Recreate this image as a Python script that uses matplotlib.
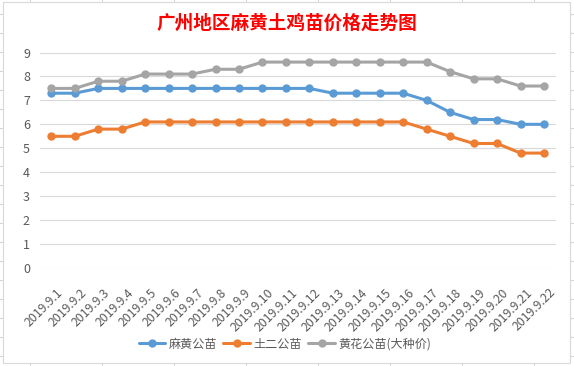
import matplotlib
matplotlib.use('Agg')
import matplotlib.pyplot as plt
import matplotlib.transforms as mtransforms
from matplotlib.patches import Rectangle
from matplotlib.lines import Line2D

plt.rcParams['font.family'] = ['Noto Sans CJK SC', 'DejaVu Sans']

# ---- data ----
dates = ['2019.9.%d' % d for d in range(1, 23)]
mahuang = [7.3, 7.3, 7.5, 7.5, 7.5, 7.5, 7.5, 7.5, 7.5, 7.5, 7.5, 7.5,
           7.3, 7.3, 7.3, 7.3, 7.0, 6.5, 6.2, 6.2, 6.0, 6.0]
tuer = [5.5, 5.5, 5.8, 5.8, 6.1, 6.1, 6.1, 6.1, 6.1, 6.1, 6.1, 6.1,
        6.1, 6.1, 6.1, 6.1, 5.8, 5.5, 5.2, 5.2, 4.8, 4.8]
huanghua = [7.5, 7.5, 7.8, 7.8, 8.1, 8.1, 8.1, 8.3, 8.3, 8.6, 8.6, 8.6,
            8.6, 8.6, 8.6, 8.6, 8.6, 8.2, 7.9, 7.9, 7.6, 7.6]
series_names = ['麻黄公苗', '土二公苗', '黄花公苗(大种价)']
colors = ['#5B9BD5', '#ED7D31', '#A5A5A5']

W, H = 574, 366
fig = plt.figure(figsize=(W / 100, H / 100), dpi=100)
fig.patch.set_facecolor('white')

def px(x, y):
    return x / W, 1 - y / H

# spreadsheet cells behind the chart
for y in range(14, H, 19):
    fig.add_artist(Line2D([0, 1], [1 - y / H] * 2, color='#D6D6D6', lw=0.8,
                          transform=fig.transFigure, zorder=-3))
for x in range(30, W, 72):
    fig.add_artist(Line2D([x / W] * 2, [0, 1], color='#D6D6D6', lw=0.8,
                          transform=fig.transFigure, zorder=-3))

# chart box
x0, y0 = px(3, 363)
x1, y1 = px(570, 2)
fig.add_artist(Rectangle((x0, y0), x1 - x0, y1 - y0, transform=fig.transFigure,
                         facecolor='white', edgecolor='#D9D9D9', lw=0.8, zorder=-2))

ax = fig.add_axes([39.6 / W, 1 - 268 / H, (555.7 - 39.6) / W, (268 - 52.5) / H])
ax.set_facecolor('none')

xs = range(len(dates))
for vals, name, c in zip([mahuang, tuer, huanghua], series_names, colors):
    ax.plot(xs, vals, color=c, lw=2.2, marker='o', markersize=5, label=name,
            solid_capstyle='round', zorder=3)

ax.set_xlim(-0.5, len(dates) - 0.5)
ax.set_ylim(0, 9)
ax.set_yticks(range(0, 10))
ax.yaxis.grid(True, color='#D9D9D9', lw=0.8)
ax.set_axisbelow(True)
for s in ax.spines.values():
    s.set_visible(False)
ax.tick_params(length=0, colors='#595959', labelsize=9)
ax.tick_params(axis='y', pad=7)
ax.set_xticks(list(xs))
ax.set_xticklabels(dates, rotation=45, ha='right', va='top',
                   rotation_mode='anchor', fontsize=8.8)
ax.tick_params(axis='x', pad=13)
shift = mtransforms.ScaledTranslation(5 / 100, 0, fig.dpi_scale_trans)
for lbl in ax.get_xticklabels():
    lbl.set_transform(lbl.get_transform() + shift)

fig.text(287 / W, 1 - 23 / H, '广州地区麻黄土鸡苗价格走势图', color='#FF0000',
         fontsize=13.4, fontweight='bold', ha='center', va='center')

fig.legend(loc='center', bbox_to_anchor=(285 / W, 1 - 344 / H), ncol=3,
           frameon=False, fontsize=8.7, handlelength=2.2, columnspacing=0.5,
           handletextpad=0.3, labelcolor='#595959')

fig.savefig('out.png', dpi=100)
plt.close()
